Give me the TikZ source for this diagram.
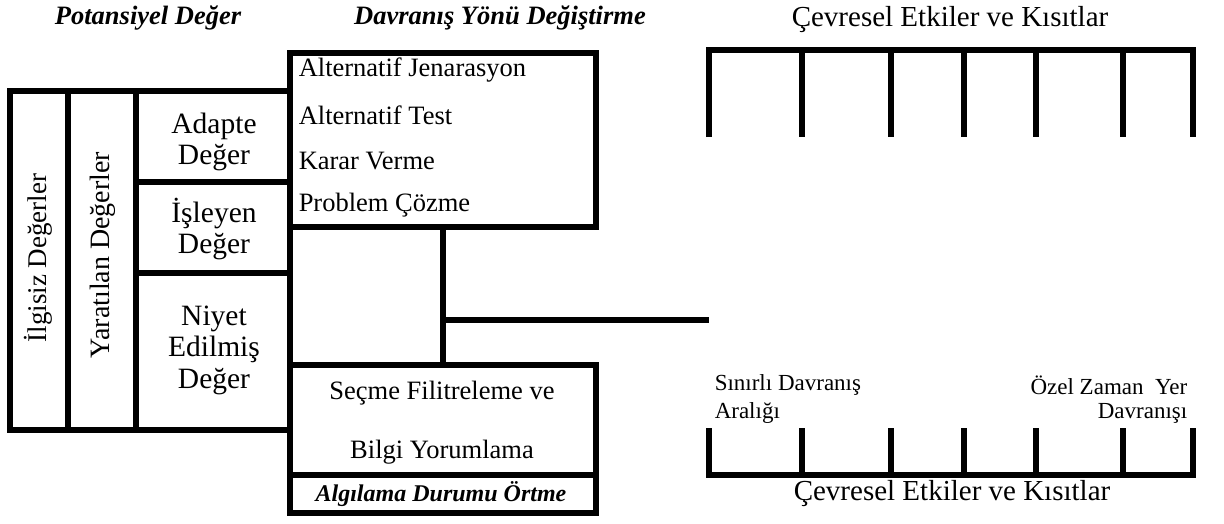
\documentclass[tikz,border=0pt]{standalone}
\usepackage{fontspec}
\setmainfont{Liberation Serif}
\begin{document}
\begin{tikzpicture}[x=1pt,y=-1pt,line width=5.5pt,line join=miter,
  txt/.style={inner sep=0pt,font=\fontsize{26.5}{30}\selectfont},
  big/.style={inner sep=0pt,font=\fontsize{29}{32}\selectfont},
  lbox/.style={inner sep=0pt,align=center,font=\fontsize{29.5}{31.5}\selectfont},
  small/.style={inner sep=0pt,font=\fontsize{23}{26}\selectfont},
  head/.style={inner sep=0pt,font=\fontsize{26.5}{28}\selectfont\bfseries\itshape},
  vtxt/.style={inner sep=0pt,rotate=90,font=\fontsize{27}{30}\selectfont}]
\useasboundingbox (0,0) rectangle (1224,523);

% left block
\draw (10,91) rectangle (290,430);
\draw (68,91) -- (68,430);
\draw (136,91) -- (136,430);
\draw (136,182) -- (290,182);
\draw (136,273) -- (290,273);

% top middle box
\draw (290,53) rectangle (596,227);
% middle part
\draw (290,227) -- (290,513);
\coordinate (junctTop) at (443,227);
\coordinate (junctBot) at (443,365);
\coordinate (junctMid) at (443,320);
\coordinate (gapEnd) at (709,320);
\draw (junctTop) -- (junctBot);
\draw (junctMid) -- (gapEnd);
\draw (290,365) rectangle (596,475);
\draw (290,475) rectangle (596,513);

% top comb
\draw[line cap=butt] (709,137) -- (709,50) -- (1193,50) -- (1193,137);
\foreach \xx in {802,891,964,1036,1123} \draw (\xx,50) -- (\xx,137);
% bottom comb
\draw[line cap=butt] (709,428) -- (709,475) -- (1193,475) -- (1193,428);
\foreach \xx in {802,891,964,1036,1123} \draw (\xx,428) -- (\xx,475);

% headings
\node[head] (hPot) at (148,18) {Potansiyel Değer};
\node[head] (hDav) at (500,18) {Davranış Yönü Değiştirme};
\node[head,font=\fontsize{24}{26}\selectfont\bfseries\itshape] (hAlg) at (441,494) {Algılama Durumu Örtme};

% list in top box
\node[txt,anchor=west] (l1) at (296,70) {Alternatif Jenarasyon};
\node[txt,anchor=west] (l2) at (296,115) {Alternatif Test};
\node[txt,anchor=west] (l3) at (296,161) {Karar Verme};
\node[txt,anchor=west] (l4) at (296,205) {Problem Çözme};

% left texts
\node[vtxt] (vIlg) at (38,258) {İlgisiz Değerler};
\node[vtxt,font=\fontsize{28}{30}\selectfont] (vYar) at (103,255) {Yaratılan Değerler};
\node[lbox] (bAd) at (214,142) {Adapte\\Değer};
\node[lbox] (bIs) at (214,229) {İşleyen\\Değer};
\node[lbox] (bNi) at (214,350) {Niyet\\Edilmiş\\Değer};

% filter box
\node[txt] (f1) at (442,393) {Seçme Filitreleme ve};
\node[txt] (f2) at (442,452) {Bilgi Yorumlama};

% right texts
\node[big] (cTop) at (950,20) {Çevresel Etkiler ve Kısıtlar};
\node[big] (cBot) at (952,494) {Çevresel Etkiler ve Kısıtlar};
\node[small,anchor=west] (s1) at (712,385) {Sınırlı Davranış};
\node[small,anchor=west] (s2) at (712,413) {Aralığı};
\node[small,anchor=east] (o1) at (1190,385) {Özel Zaman\ \ Yer};
\node[small,anchor=east] (o2) at (1190,413) {Davranışı};
\end{tikzpicture}
\end{document}
